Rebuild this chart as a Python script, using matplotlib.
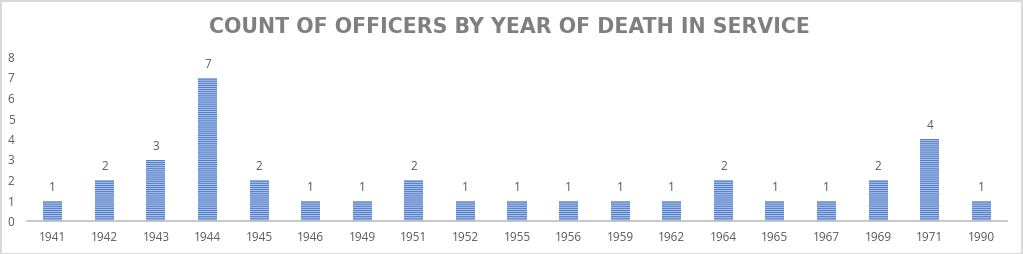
import matplotlib
matplotlib.use("Agg")
import matplotlib.pyplot as plt
from matplotlib.patches import Rectangle

years = ["1941", "1942", "1943", "1944", "1945", "1946", "1949", "1951", "1952", "1955",
         "1956", "1959", "1962", "1964", "1965", "1967", "1969", "1971", "1990"]
counts = [1, 2, 3, 7, 2, 1, 1, 2, 1, 1, 1, 1, 1, 2, 1, 1, 2, 4, 1]
title = "COUNT OF OFFICERS BY YEAR OF DEATH IN SERVICE"

W, H = 1023, 254
fig = plt.figure(figsize=(W / 100, H / 100), dpi=100)
fig.patches.append(Rectangle((0.5 / W, 0.5 / H), 1 - 1.5 / W, 1 - 1.5 / H, transform=fig.transFigure,
                             fill=False, edgecolor="#d9d9d9", linewidth=1.5))

ax = fig.add_axes([27 / W, 33 / H, 980 / W, 164 / H])
x = list(range(len(years)))
plt.rcParams['hatch.linewidth'] = 0.9
ax.bar(x, counts, width=0.37, color="#4472C4", edgecolor="none", zorder=2)
ax.bar(x, counts, width=0.37, facecolor="none", edgecolor="#a9c0e8", hatch="-" * 8, linewidth=0, zorder=3)

for xi, c in zip(x, counts):
    ax.annotate(str(c), (xi, c), xytext=(0, 5), textcoords="offset points",
                ha="center", va="bottom", fontsize=8.5, color="#595959", family="Open Sans")

ax.set_xlim(-0.5, len(years) - 0.5)
ax.set_ylim(0, 8)
ax.set_xticks(x)
ax.set_xticklabels(years)
ax.set_yticks(range(0, 9))
for s in ["top", "right", "left"]:
    ax.spines[s].set_visible(False)
ax.spines["bottom"].set_color("#bfbfbf")
ax.spines["bottom"].set_linewidth(1.2)
ax.tick_params(axis="both", length=0, labelsize=8.5, labelcolor="#595959")
ax.tick_params(axis="x", pad=7)
ax.tick_params(axis="y", pad=9)
for lab in ax.get_xticklabels() + ax.get_yticklabels():
    lab.set_family("Open Sans")

fig.text(509 / W, 1 - 27 / H, title, ha="center", va="center", fontsize=14.8,
         fontweight="bold", color="#7f7f7f", family="DejaVu Sans")

fig.savefig("out.png", dpi=100)
